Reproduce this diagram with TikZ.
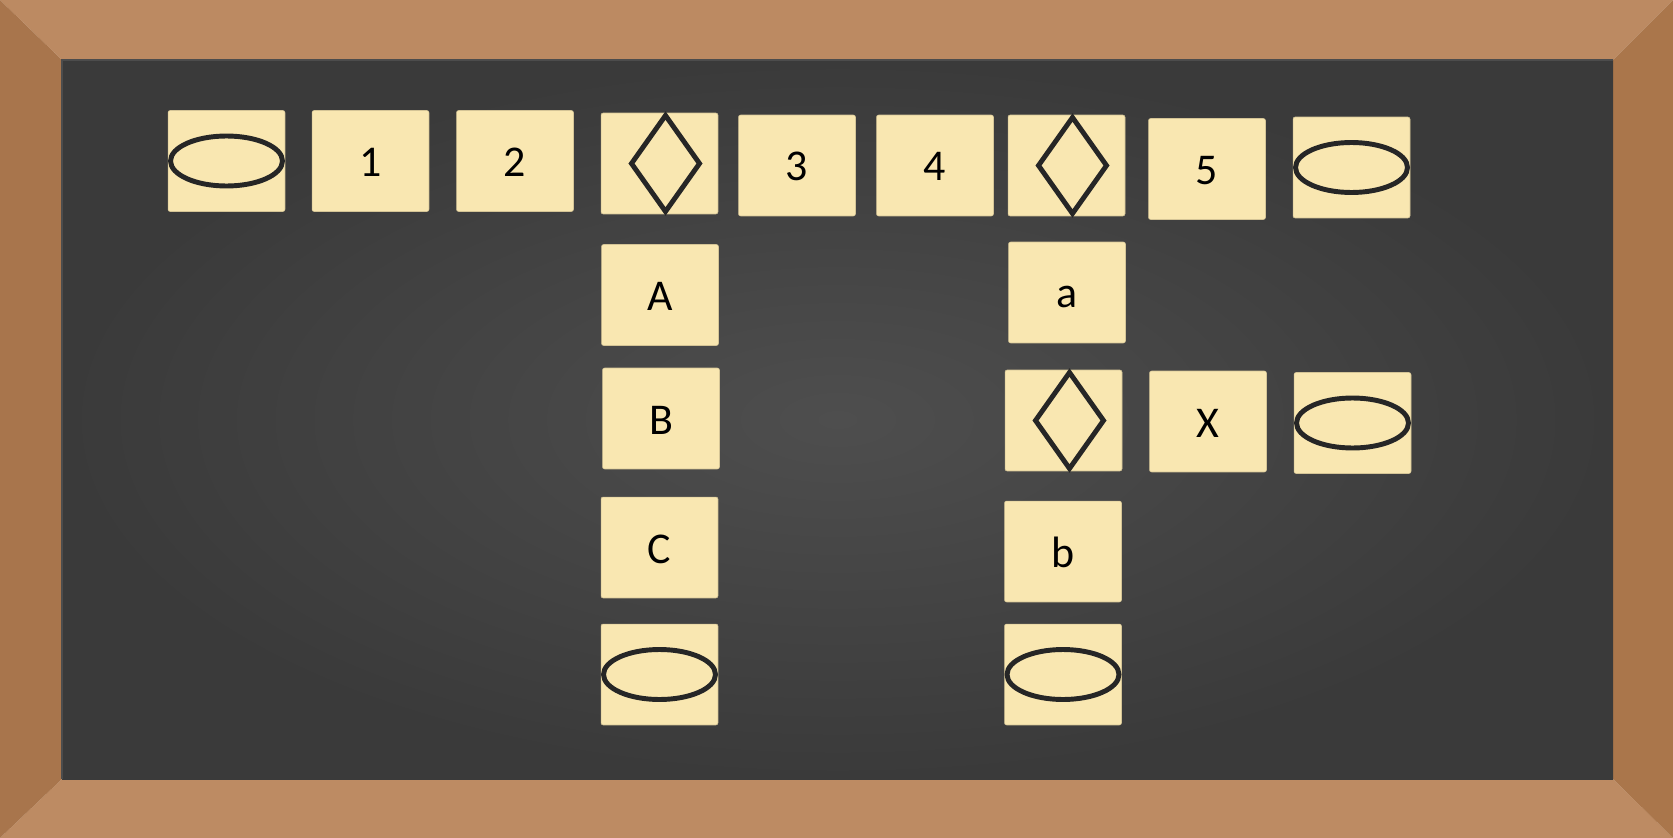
\documentclass[tikz,border=0pt]{standalone}
\usepackage{fontspec}
\setmainfont{Carlito}
\begin{document}
\begin{tikzpicture}[x=0.02cm,y=-0.02cm,
  tile/.style={fill=boxc, draw=boxc!85!black, line width=0.3pt, rounded corners=1.2pt, inner sep=0pt,
    minimum width=2.34cm, minimum height=2.02cm, font=\fontsize{25}{30}\selectfont, text=black,
    text depth=0pt, text height=0.62cm},
  glyph/.style={draw=inkc, line width=2.8pt, line join=miter}
]
\definecolor{boxc}{HTML}{F9E7B1}
\definecolor{inkc}{HTML}{262626}
\definecolor{woodt}{HTML}{BC8A62}
\definecolor{woodb}{HTML}{BD8B63}
\definecolor{woodl}{HTML}{A8754C}
\definecolor{woodr}{HTML}{AA764B}
\definecolor{boardc}{HTML}{3A3A3A}
\definecolor{boardl}{HTML}{4E4E4E}
\useasboundingbox (0,0) rectangle (1673,838);
% frame
\fill[woodt] (0,0) -- (1673,0) -- (1613,60) -- (62,60) -- cycle;
\fill[woodb] (0,838) -- (1673,838) -- (1613,779) -- (62,779) -- cycle;
\fill[woodl] (0,0) -- (62,60) -- (62,779) -- (0,838) -- cycle;
\fill[woodr] (1673,0) -- (1613,60) -- (1613,779) -- (1673,838) -- cycle;
% board
\shade[inner color=boardl, outer color=boardc] (62,60) rectangle (1613,779);
\draw[black!70, line width=1.5pt] (62,779) -- (62,60) -- (1613,60);
% row 1
\node[tile] (e1) at (226.5,161) {};
\node[tile] (n1) at (370.5,161) {1};
\node[tile] (n2) at (515,161) {2};
\node[tile] (d1) at (659.5,163.5) {};
\node[tile] (n3) at (797,165.5) {3};
\node[tile] (n4) at (935,165.5) {4};
\node[tile] (d2) at (1066.5,165.5) {};
\node[tile] (n5) at (1207,169) {5};
\node[tile] (e2) at (1351.5,167.5) {};
% left column
\node[tile] (nA) at (660,295) {A};
\node[tile] (nB) at (661,418.5) {B};
\node[tile] (nC) at (659.5,547.5) {C};
\node[tile] (eC) at (659.5,674.5) {};
% right column
\node[tile] (na) at (1067,292.5) {a};
\node[tile] (d3) at (1063.5,420.5) {};
\node[tile] (nX) at (1208,421.5) {X};
\node[tile] (eX) at (1352.5,423) {};
\node[tile] (nb) at (1063,551.5) {b};
\node[tile] (eb) at (1063,674.5) {};
% ellipses
\foreach \e in {e1,e2,eX,eC,eb}{
  \draw[glyph] (\e.center) ellipse [x radius=1.12cm, y radius=0.50cm];
}
% diamonds
\foreach \d in {d1,d2,d3}{
  \draw[glyph] (\d.center) ++(6,-48) -- ++(34,48) -- ++(-34,48) -- ++(-34,-48) -- cycle;
}
\end{tikzpicture}
\end{document}
